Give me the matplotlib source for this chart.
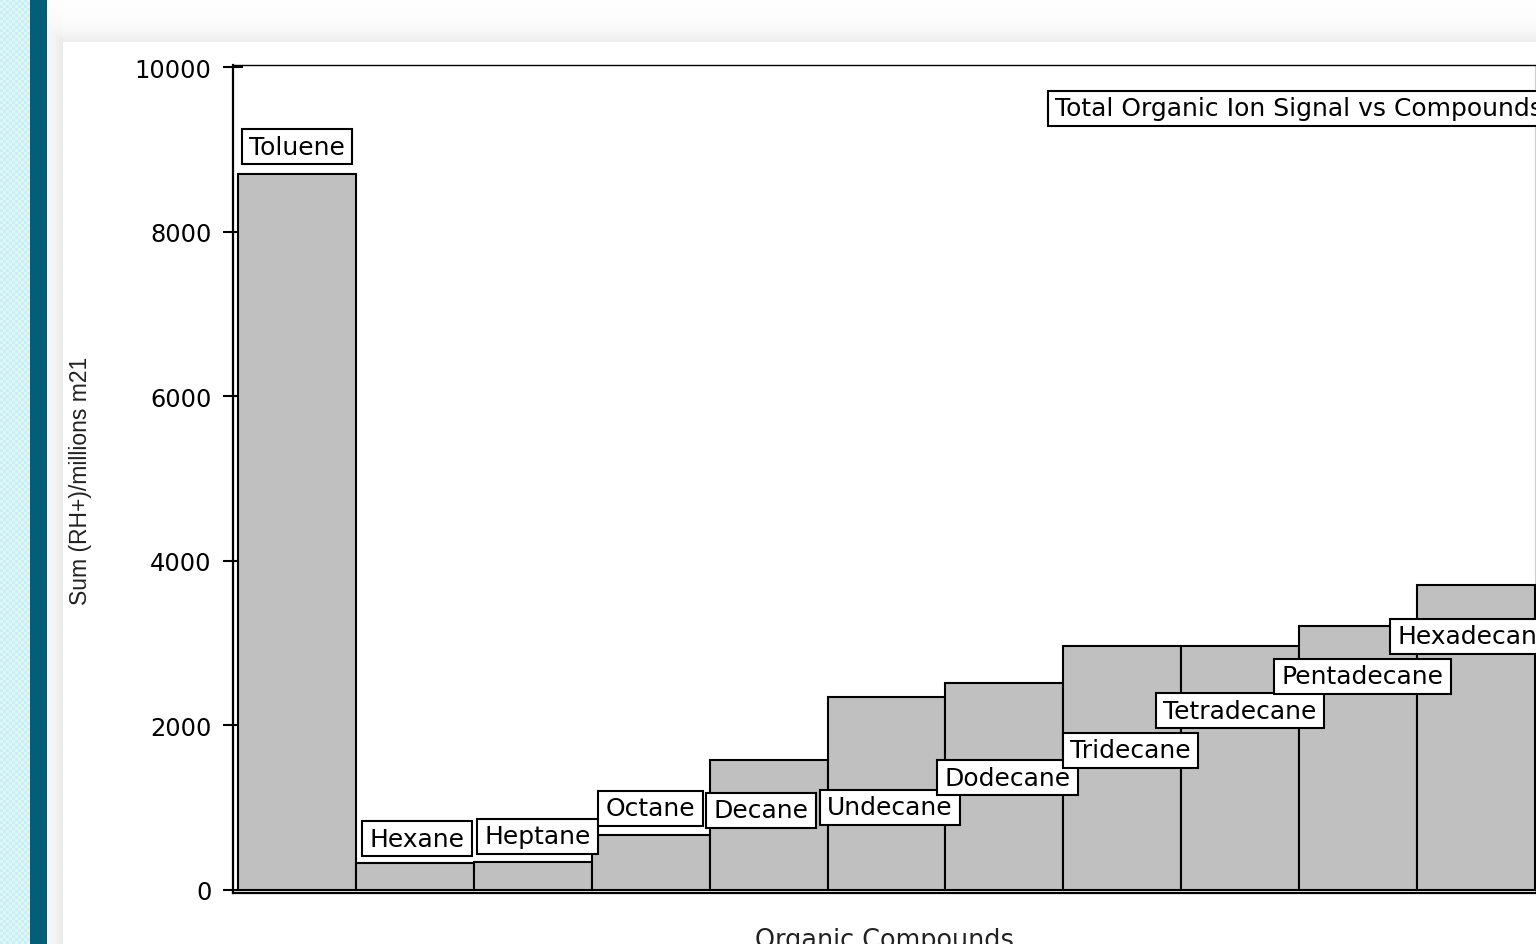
import numpy as np
import matplotlib
matplotlib.use('Agg')
import matplotlib.pyplot as plt
from matplotlib.path import Path

# ---------------- data ----------------
compounds = ['Toluene', 'Hexane', 'Heptane', 'Octane', 'Decane', 'Undecane',
             'Dodecane', 'Tridecane', 'Tetradecane', 'Pentadecane', 'Hexadecane']
signal = [8700, 330, 340, 670, 1580, 2350, 2510, 2970, 2960, 3210, 3710]
y_ticks = [0, 2000, 4000, 6000, 8000, 10000]
title_text = 'Total Organic Ion Signal vs Compounds'
x_label = 'Organic Compounds'
y_label = 'Sum (RH+)/millions m21'

# ---------------- layout (label placement) ----------------
label_dx = [0.0, 0.02, 0.04, 0.0, -0.06, 0.03, 0.03, 0.07, 0.0, 0.04, -0.01]
label_y = [9028, 620, 656, 996, 972, 1008, 1361, 1701, 2175, 2600, 3086]

plt.rcParams['font.family'] = ['DejaVu Sans']

W, H = 1536, 945
fig = plt.figure(figsize=(W / 100, H / 100), dpi=100)
fig.patch.set_facecolor('white')

# ---------------- slide background ----------------
bg = fig.add_axes([0, 0, 1, 1], zorder=-10)
bg.set_xlim(0, W)
bg.set_ylim(H, 0)
bg.axis('off')
yy, xx = np.mgrid[0:H, 0:W]
dist = np.maximum(np.maximum(63 - xx, 43 - yy), 0).astype(float)
shade = np.where(dist > 0, 0.085 * np.exp(-dist / 14.0), 0.0)
shade = np.where((yy < 43) & (xx >= 63), 0.075 * np.exp(-(43 - yy) / 12.0), shade)
img = np.ones((H, W, 3)) - shade[..., None]
pat = ((xx // 3 + yy // 3) % 2 == 0)
strip = xx < 30
img[strip & pat] = np.array([0.80, 0.94, 0.96])
img[strip & ~pat] = np.array([0.87, 0.97, 0.98])
img[(xx >= 30) & (xx < 47)] = np.array([0x04, 0x5e, 0x78]) / 255.0
bg.imshow(img, extent=(0, W, H, 0), aspect='auto', interpolation='nearest')


# box with separate horizontal / vertical padding
def label_box(x0, y0, width, height, mutation_size):
    px = 0.30 * mutation_size
    py = 0.22 * mutation_size
    xa, ya = x0 - px, y0 - py
    xb, yb = x0 + width + px, y0 + height + py
    return Path([(xa, ya), (xb, ya), (xb, yb), (xa, yb), (xa, ya)], closed=True)


# ---------------- main chart ----------------
left, right, top, bottom = 233, 1535.5, 66, 894
ax = fig.add_axes([left / W, 1 - bottom / H, (right - left) / W, (bottom - top) / H])
ax.set_facecolor('white')

x = np.arange(len(compounds))
ax.bar(x, signal, width=1.0, align='edge', color='#c0c0c0',
       edgecolor='black', linewidth=1.5, zorder=2)

px_per_unit = 117.9
ax.set_xlim((left - 238) / px_per_unit, (right - 238) / px_per_unit)
ypx = 823 / 10000.0
ax.set_ylim(-3 / ypx, 10000 + 2 / ypx)

ax.set_xticks([])
ax.set_yticks(y_ticks)
ax.set_yticklabels([str(v) for v in y_ticks])
ax.tick_params(axis='y', direction='inout', length=15, width=1.5, pad=8,
               labelsize=17.4, colors='black')

for side, lw in [('left', 1.6), ('bottom', 1.6), ('top', 1.0), ('right', 1.0)]:
    ax.spines[side].set_linewidth(lw)
    ax.spines[side].set_color('black')

# bar labels
for i, name in enumerate(compounds):
    ax.text(i + 0.5 + label_dx[i], label_y[i], name, ha='center', va='center',
            fontsize=18, color='black', zorder=5 + i,
            bbox=dict(boxstyle=label_box, facecolor='white',
                      edgecolor='black', linewidth=1.5))

# title box
ax.text((1055 - 238) / px_per_unit, (891 - 109) / ypx, title_text,
        ha='left', va='center', fontsize=18, color='black', zorder=20,
        clip_on=False,
        bbox=dict(boxstyle=label_box, facecolor='white',
                  edgecolor='black', linewidth=1.5))

# axis labels
fig.text(80 / W, 1 - 481 / H, y_label, rotation=90, ha='center', va='center',
         fontsize=16.5, color='#222222', family=['Liberation Sans', 'DejaVu Sans'])
fig.text(884 / W, 1 - 928 / H, x_label, ha='center', va='top',
         fontsize=18.4, color='#222222')

fig.savefig('out.png', dpi=100)
